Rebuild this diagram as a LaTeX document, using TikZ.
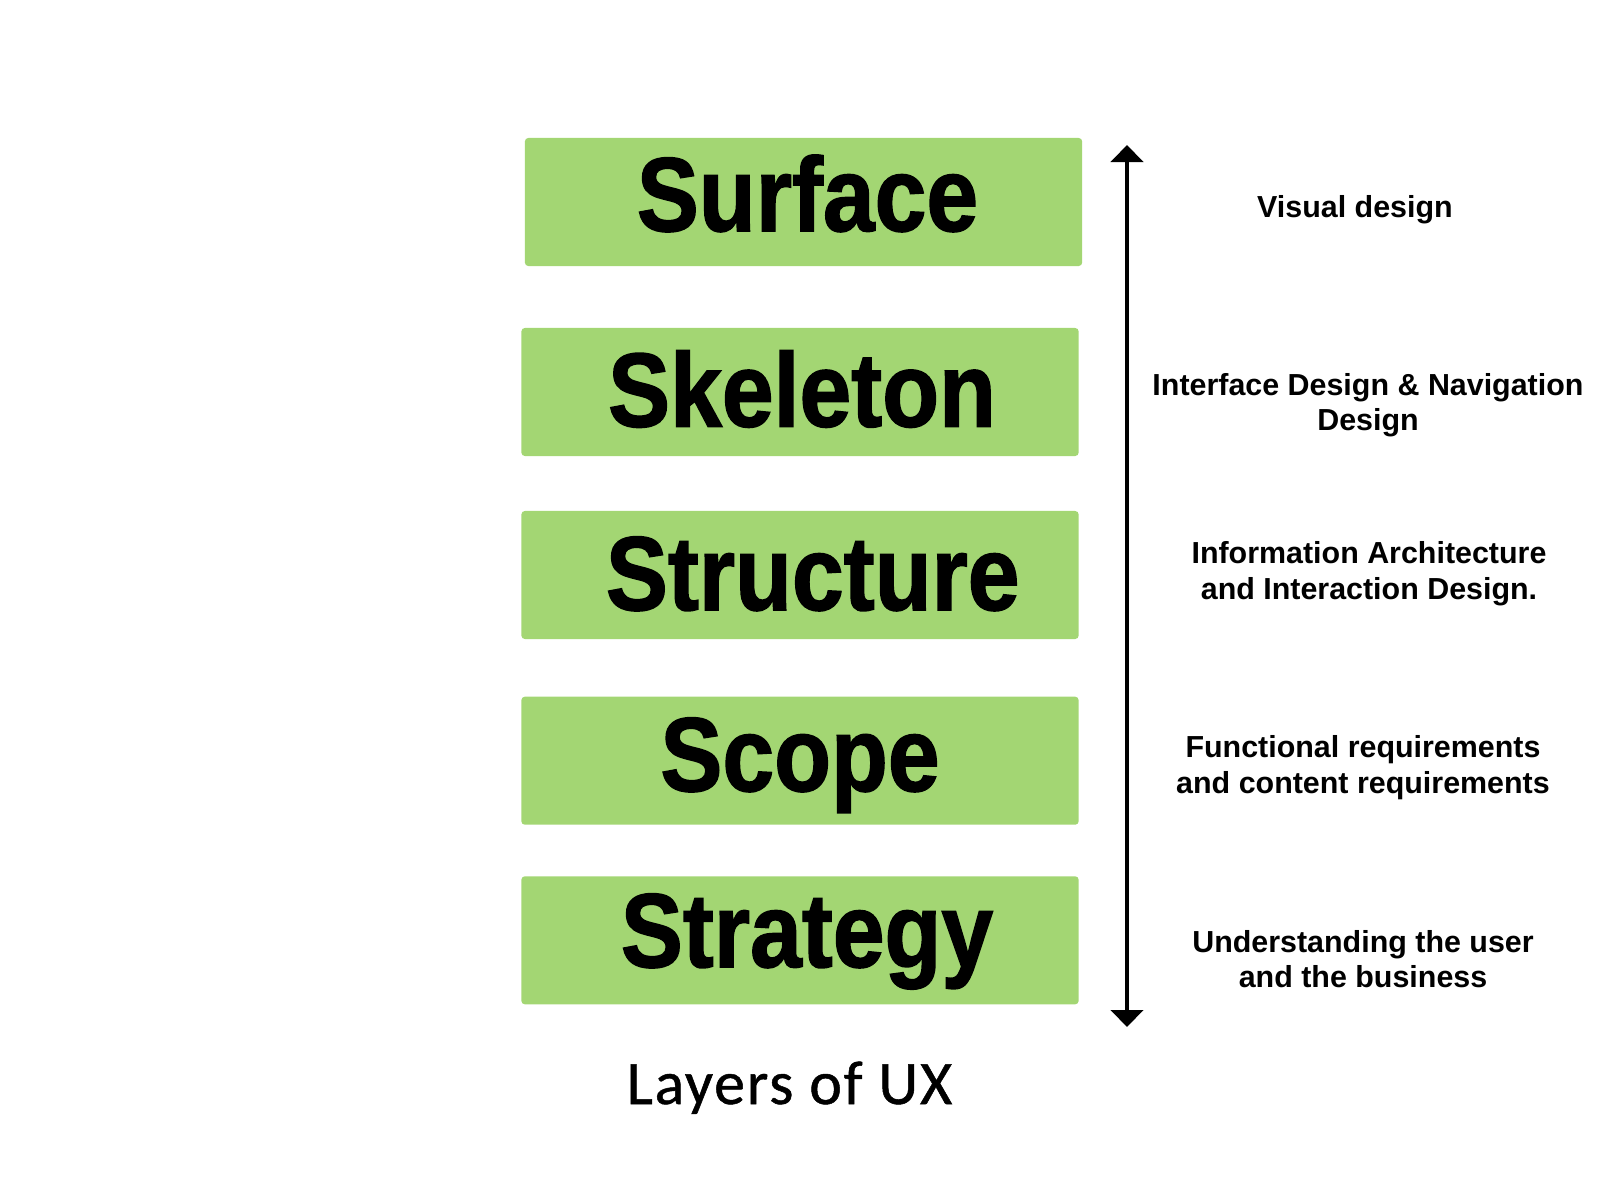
\documentclass[tikz,border=0pt]{standalone}
\usepackage{fontspec}
\usepackage{graphicx}
\usetikzlibrary{arrows.meta}
\newfontfamily\bigfont{Liberation Sans}[BoldFeatures={FakeBold=1.5}]
\newfontfamily\labfont{Liberation Sans}
\newfontfamily\titlefont{Carlito}[LetterSpace=3,FakeBold=0.8]
\definecolor{layergreen}{RGB}{163,214,115}
\newcommand{\layername}[1]{\scalebox{0.885}[1]{#1}}
\tikzset{
  layerbox/.style={fill=layergreen, draw=none, rounded corners=1pt, minimum width=5.57cm, minimum height=1.28cm, inner sep=0pt},
  layertext/.style={anchor=base, inner sep=0pt, font=\bigfont\bfseries\fontsize{29.9}{30}\selectfont},
  labtext/.style={anchor=base, inner sep=0pt, font=\labfont\bfseries\fontsize{8.65}{10.2}\selectfont},
  titletext/.style={anchor=base, inner sep=0pt, font=\titlefont\fontsize{17.6}{20}\selectfont},
  updown/.style={line width=1.3pt, {Triangle[width=0.32cm,length=0.17cm]}-{Triangle[width=0.32cm,length=0.17cm]}}
}
\begin{document}
\begin{tikzpicture}[x=0.01cm,y=-0.01cm]
\useasboundingbox (0,0) rectangle (1600,1200);
% boxes
\node[layerbox] (bsurface) at (803.5,202) {};
\node[layerbox] (bskeleton) at (800,392) {};
\node[layerbox] (bstructure) at (800,575) {};
\node[layerbox] (bscope) at (800,760.7) {};
\node[layerbox] (bstrategy) at (800,940.3) {};
% layer names
\node[layertext] (tsurface) at (807.5,231) {\layername{Surface}};
\node[layertext] (tskeleton) at (802,426.5) {\layername{Skeleton}};
\node[layertext] (tstructure) at (812.7,610) {\layername{Structure}};
\node[layertext] (tscope) at (800,791) {\layername{Scope}};
\node[layertext] (tstrategy) at (807,967) {\layername{Strategy}};
% arrow
\coordinate (atop) at (1127,145);
\coordinate (abot) at (1127,1027);
\draw[updown] (abot) -- (atop);
% labels
\node[labtext] (l1) at (1355,217) {Visual design};
\node[labtext] (l2a) at (1368,395) {Interface Design \& Navigation};
\node[labtext] (l2b) at (1368,430) {Design};
\node[labtext] (l3a) at (1369,563) {Information Architecture};
\node[labtext] (l3b) at (1369,599) {and Interaction Design.};
\node[labtext] (l4a) at (1363,757) {Functional requirements};
\node[labtext] (l4b) at (1363,793) {and content requirements};
\node[labtext] (l5a) at (1363,952) {Understanding the user};
\node[labtext] (l5b) at (1363,987.5) {and the business};
% title
\node[titletext] (title) at (789.5,1104) {Layers of UX};
\end{tikzpicture}
\end{document}
